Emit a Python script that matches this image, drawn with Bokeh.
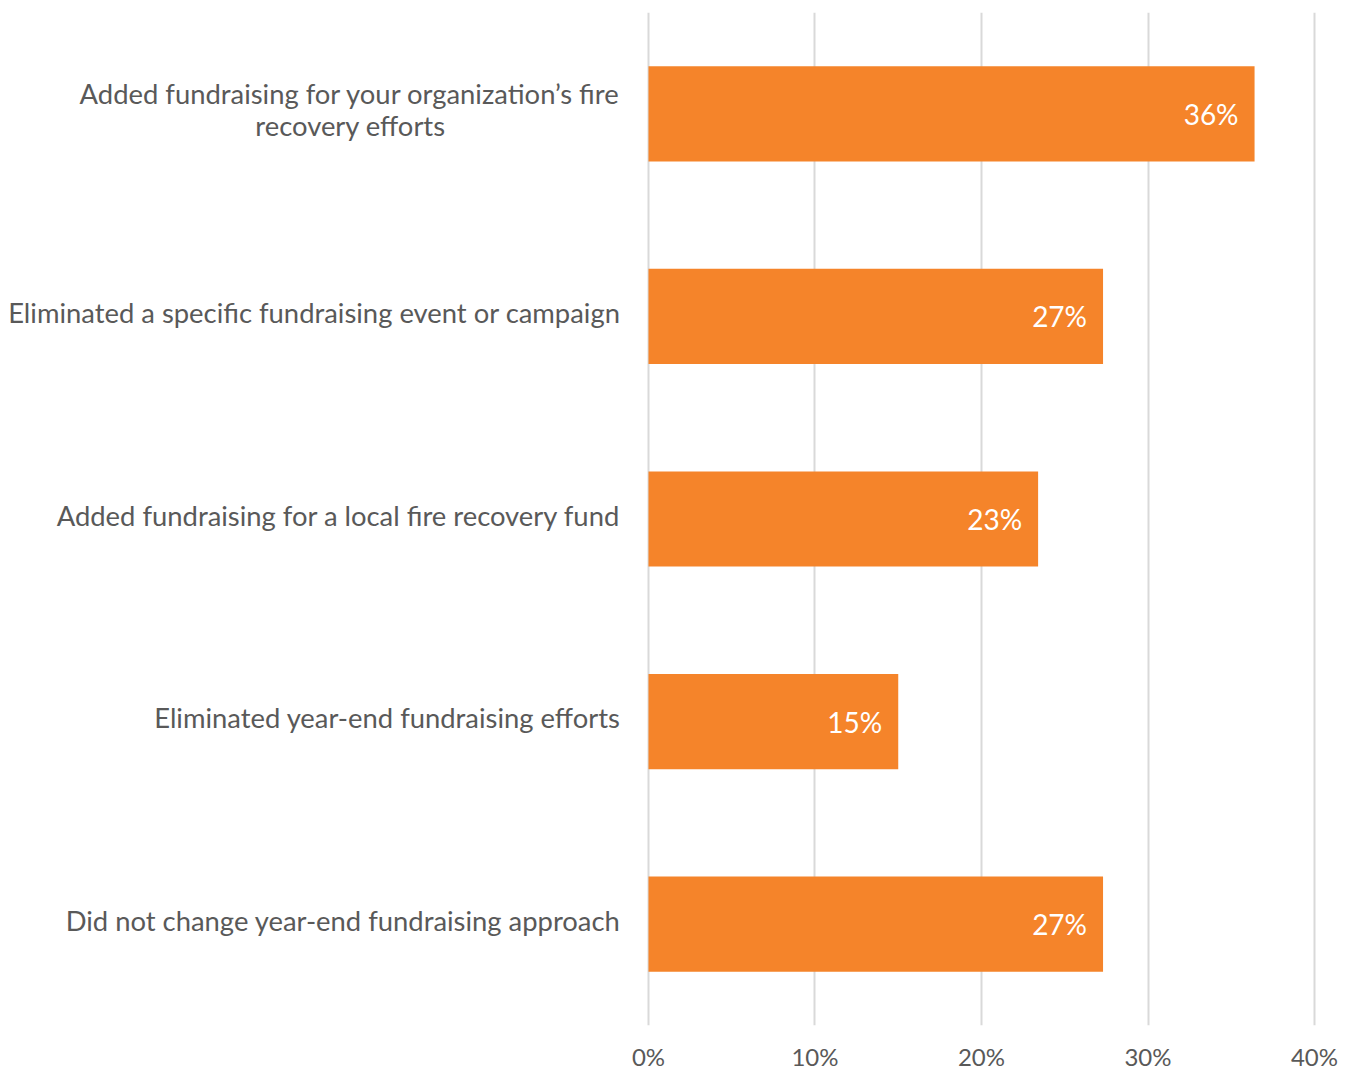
from bokeh.plotting import figure
from bokeh.layouts import row
from bokeh.models import Range1d, FixedTicker, ColumnDataSource
from bokeh.embed import file_html
from bokeh.resources import INLINE
from bokeh.core.properties import value

categories = [
    "Added fundraising for your organization\u2019s fire\nrecovery efforts",
    "Eliminated a specific fundraising event or campaign",
    "Added fundraising for a local fire recovery fund",
    "Eliminated year-end fundraising efforts",
    "Did not change year-end fundraising approach",
]
values = [36.4, 27.3, 23.4, 15.0, 27.3]
value_labels = ["36%", "27%", "23%", "15%", "27%"]
x_ticks = [0, 10, 20, 30, 40]
x_tick_labels = ["0%", "10%", "20%", "30%", "40%"]

FONT = "Lato"
TEXT_COLOR = "#595959"
BAR_COLOR = "#F5842A"
GRID_COLOR = "#D9D9D9"

n = len(categories)
y_pos = [n - i - 0.5 for i in range(n)]

FRAME_H = 1013
TOP = 12
BOTTOM = 45
px_per_unit_y = FRAME_H / n
y_range = Range1d(0, n)

# ---- left panel: category labels ----
LEFT_W = 630
lp = figure(
    frame_width=LEFT_W, frame_height=FRAME_H,
    x_range=Range1d(0, LEFT_W), y_range=y_range,
    output_backend="svg", toolbar_location=None,
    min_border_left=0, min_border_right=0, min_border_top=TOP, min_border_bottom=BOTTOM,
)
lp.axis.visible = False
lp.grid.visible = False
lp.outline_line_color = None
lp.background_fill_color = "white"
lp.border_fill_color = "white"

LINE_PX = 32
lx, ly, lt, la = [], [], [], []
for yc, cat in zip(y_pos, categories):
    lines = cat.split("\n")
    k = len(lines)
    for j, line in enumerate(lines):
        dy = ((k - 1) / 2 - j) * LINE_PX / px_per_unit_y
        ly.append(yc + dy)
        lt.append(line)
        if j == 0:
            lx.append(620)
            la.append("right")
        else:
            lx.append(350)
            la.append("center")
lsrc = ColumnDataSource(dict(x=lx, y=ly, t=lt, a=la))
lp.text(x="x", y="y", text="t", text_align="a", source=lsrc, y_offset=-4,
        text_baseline="middle", text_font=value(FONT), text_font_size="27.4px",
        text_color=TEXT_COLOR)

# ---- right panel: bars ----
PAD = 0.3
PX_PER_PCT = 16.65
p = figure(
    frame_width=int(round((40 + 2 * PAD) * PX_PER_PCT)), frame_height=FRAME_H,
    x_range=Range1d(-PAD, 40 + PAD), y_range=y_range,
    output_backend="svg", toolbar_location=None,
    min_border_left=648 - LEFT_W - int(round(PAD * PX_PER_PCT)), min_border_right=20,
    min_border_top=TOP, min_border_bottom=BOTTOM,
)
p.outline_line_color = None
p.background_fill_color = "white"
p.border_fill_color = "white"

src = ColumnDataSource(dict(y=y_pos, right=values, lab=value_labels))
p.hbar(y="y", left=0, right="right", height=0.47, source=src,
       fill_color=BAR_COLOR, line_color=None)
p.text(x="right", y="y", text="lab", source=src, x_offset=-16, y_offset=0,
       text_align="right", text_baseline="middle",
       text_font=value(FONT), text_font_size="28px", text_color="white")

p.yaxis.visible = False
p.ygrid.visible = False
p.xgrid.ticker = FixedTicker(ticks=x_ticks)
p.xgrid.grid_line_color = GRID_COLOR
p.xgrid.grid_line_width = 2

p.xaxis.ticker = FixedTicker(ticks=x_ticks)
p.xaxis.major_label_overrides = {t: l for t, l in zip(x_ticks, x_tick_labels)}
p.xaxis.axis_line_color = None
p.xaxis.major_tick_line_color = None
p.xaxis.minor_tick_line_color = None
p.xaxis.major_label_standoff = 10
p.xaxis.major_label_text_font = FONT
p.xaxis.major_label_text_font_size = "24px"
p.xaxis.major_label_text_color = TEXT_COLOR

layout = row(lp, p, spacing=0)
open("out.html", "w").write(file_html(layout, INLINE))
